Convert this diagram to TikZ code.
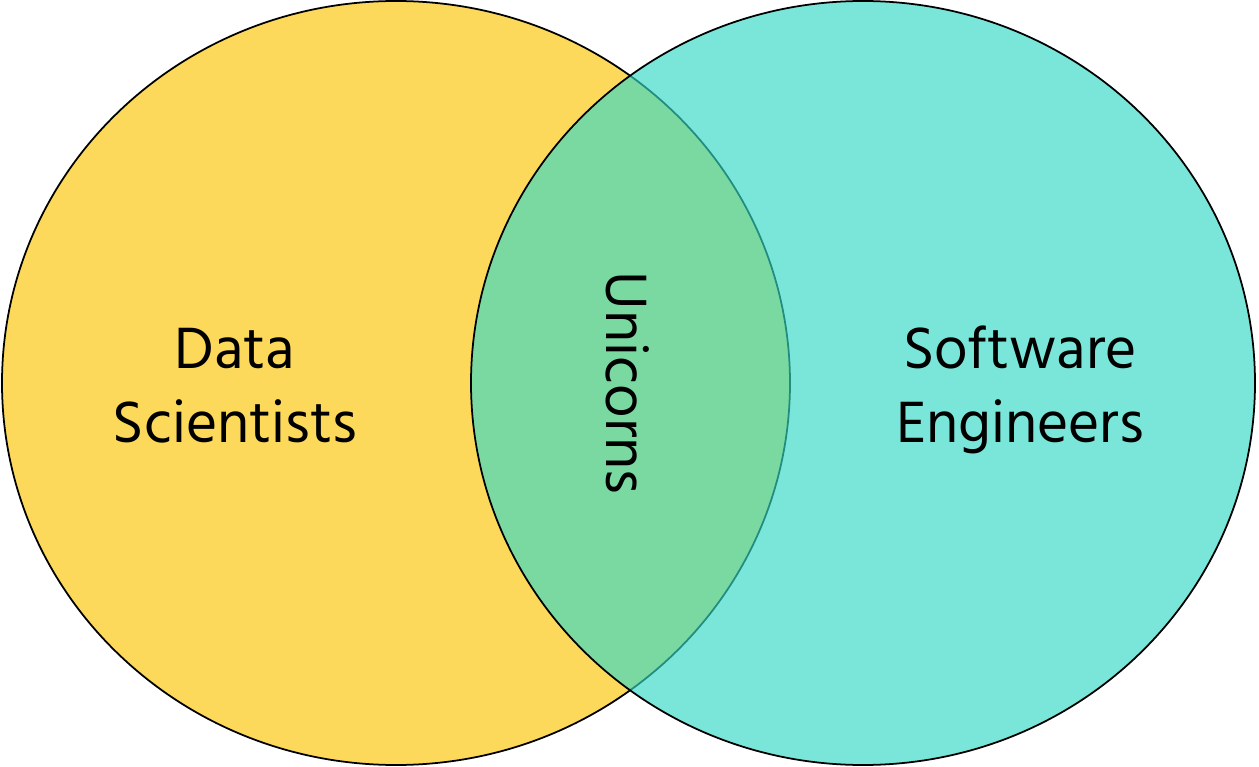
\documentclass[tikz,border=0pt]{standalone}
\usepackage{fontspec}
\setmainfont{Hind Siliguri}
\usepackage{tikz}
\definecolor{dsyellow}{RGB}{252,217,90}
\definecolor{seteal}{RGB}{51,217,198}
\tikzset{label/.style={align=center, font=\fontsize{34}{40}\selectfont, inner sep=0pt}}

\begin{document}
\begin{tikzpicture}[x=0.02cm, y=-0.02cm]

\useasboundingbox (0,0) rectangle (1259,767);

\draw[line width=1pt, fill=dsyellow] (396,383) ellipse [x radius=394, y radius=382];
\draw[line width=1pt, fill=seteal, fill opacity=0.65] (863,383) ellipse [x radius=392, y radius=382];

\node[label, anchor=base] at (235,368) (data) {Data};
\node[label, anchor=base] at (235,442) (sci) {Scientists};
\node[label, anchor=base] at (1020,368) (soft) {Software};
\node[label, anchor=base] at (1020,442) (eng) {Engineers};
\node[label, rotate=-90] at (628,383) (uni) {Unicorns};

\end{tikzpicture}
\end{document}
